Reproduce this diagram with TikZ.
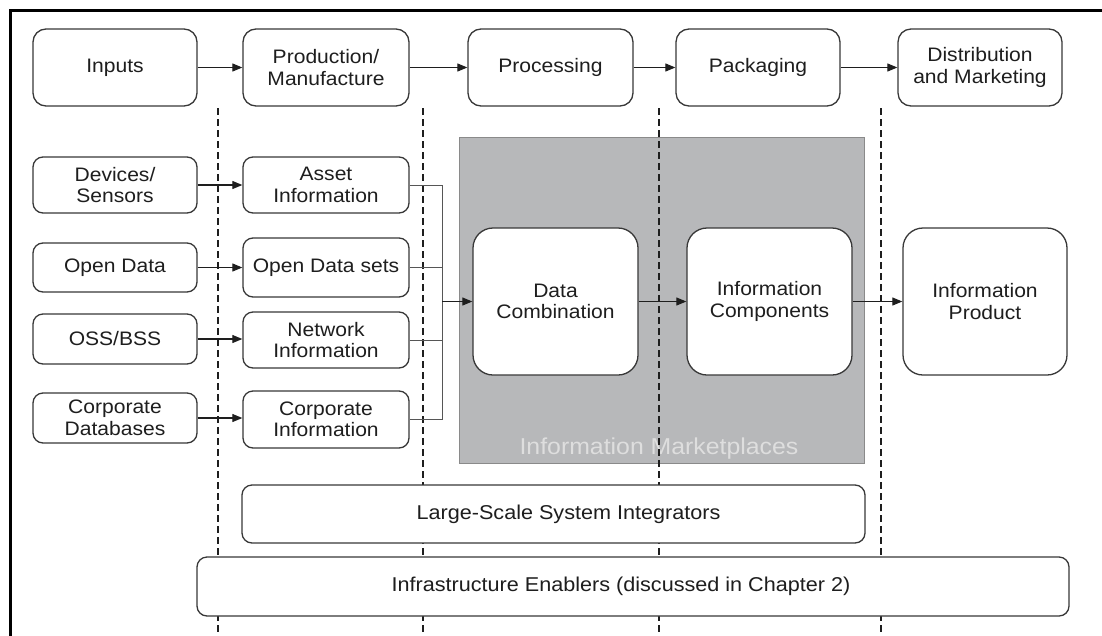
\documentclass[tikz,border=0pt]{standalone}
\usepackage{fontspec}
\setmainfont{Liberation Sans}[FakeStretch=1.08]
\usetikzlibrary{arrows.meta}
\definecolor{ink}{HTML}{1E1E1E}
\definecolor{edge}{HTML}{383838}
\definecolor{mkt}{HTML}{B7B8BA}
\definecolor{mktline}{HTML}{8A8A8A}
\definecolor{mkttext}{HTML}{DEDEDE}
\begin{document}
\begin{tikzpicture}[x=1pt,y=-1pt,
  box/.style={draw=edge, line width=1.3pt, fill=white, rounded corners=10pt, align=center,
    text=ink, font=\fontsize{19.5}{21.5}\selectfont, inner sep=0pt},
  topbox/.style={box, minimum width=164pt, minimum height=77pt, rounded corners=13pt},
  colbox/.style={box, minimum width=164pt},
  bigbox/.style={box, minimum width=165pt, minimum height=147pt, rounded corners=20pt},
  barbox/.style={box, font=\fontsize{20}{22}\selectfont},
  arr/.style={draw=ink, line width=1.1pt, -{Triangle[length=10pt,width=8pt]}},
  feed/.style={draw=edge!85, line width=1pt},
  sepline/.style={draw=ink, line width=1.2pt, dash pattern=on 7pt off 4pt}]
\fill[white] (0,0) rectangle (1102,635);
\useasboundingbox (0,0) rectangle (1102,635);

% marketplace region
\node[fill=mkt, draw=mktline, line width=1pt, minimum width=405pt, minimum height=326pt, inner sep=0pt] (mkt) at (661.5,300) {};
\node[text=mkttext, font=\fontsize{23}{25}\selectfont] (mktlabel) at (659,449) {Information Marketplaces};

% stage separators
\foreach \x in {218,423,659,881}{
  \draw[sepline] (\x,108) -- (\x,635);
}

% top row
\node[topbox] (inputs) at (115,67.5) {Inputs};
\node[topbox, minimum width=166pt] (prod) at (326,67.5) {Production/\\Manufacture};
\node[topbox, minimum width=165pt] (proc) at (550.5,67.5) {Processing};
\node[topbox] (pack) at (758,67.5) {Packaging};
\node[topbox] (dist) at (980,67.5) {Distribution\\and Marketing};

% left column
\node[colbox, minimum height=56pt] (dev) at (115,185) {Devices/\\Sensors};
\node[colbox, minimum height=49pt] (open) at (115,267.5) {Open Data};
\node[colbox, minimum height=50pt] (oss) at (115,339) {OSS/BSS};
\node[colbox, minimum height=50pt] (cdb) at (115,418) {Corporate\\Databases};

% second column
\node[colbox, minimum width=166pt, minimum height=56pt] (asset) at (326,185) {Asset\\Information};
\node[colbox, minimum width=166pt, minimum height=59pt] (ods) at (326,267.5) {Open Data sets};
\node[colbox, minimum width=166pt, minimum height=56pt] (net) at (326,340) {Network\\Information};
\node[colbox, minimum width=166pt, minimum height=57pt] (cinfo) at (326,419.5) {Corporate\\Information};

% big boxes
\node[bigbox] (dc) at (555.5,301.5) {Data\\Combination};
\node[bigbox] (ic) at (769.5,301.5) {Information\\Components};
\node[bigbox, minimum width=164pt] (ip) at (985,301.5) {Information\\Product};

% bars
\node[barbox, minimum width=623pt, minimum height=58pt] (lsi) at (553.5,514) {\hspace*{30pt}Large-Scale System Integrators};
\node[barbox, minimum width=872pt, minimum height=59pt] (infra) at (633,586.5) {Infrastructure Enablers (discussed in Chapter 2)\hspace*{24pt}};

% top row arrows
\draw[arr] (inputs) -- (prod);
\draw[arr] (prod) -- (proc);
\draw[arr] (proc) -- (pack);
\draw[arr] (pack) -- (dist);

% left to second column
\draw[arr] (dev.east) -- (dev.east -| asset.west);
\draw[arr] (open.east) -- (open.east -| ods.west);
\draw[arr] (oss.east) -- (oss.east -| net.west);
\draw[arr] (cdb.east) -- (cdb.east -| cinfo.west);

% merge
\coordinate (mtop) at (442,185);
\coordinate (mbot) at (442,419.5);
\coordinate (mj) at (442,301.5);
\draw[feed] (asset.east) -- (mtop) -- (mbot) -- (cinfo.east);
\draw[feed] (ods.east) -- (ods.east -| mtop);
\draw[feed] (net.east) -- (net.east -| mtop);
\draw[arr, line width=1pt] (mj) -- (dc.west);

\draw[arr, line width=1pt] (dc) -- (ic);
\draw[arr, line width=1pt] (ic) -- (ip);

% frame
\draw[line width=3pt, black] (10,640) -- (10,10) -- (1110,10);
\end{tikzpicture}
\end{document}
